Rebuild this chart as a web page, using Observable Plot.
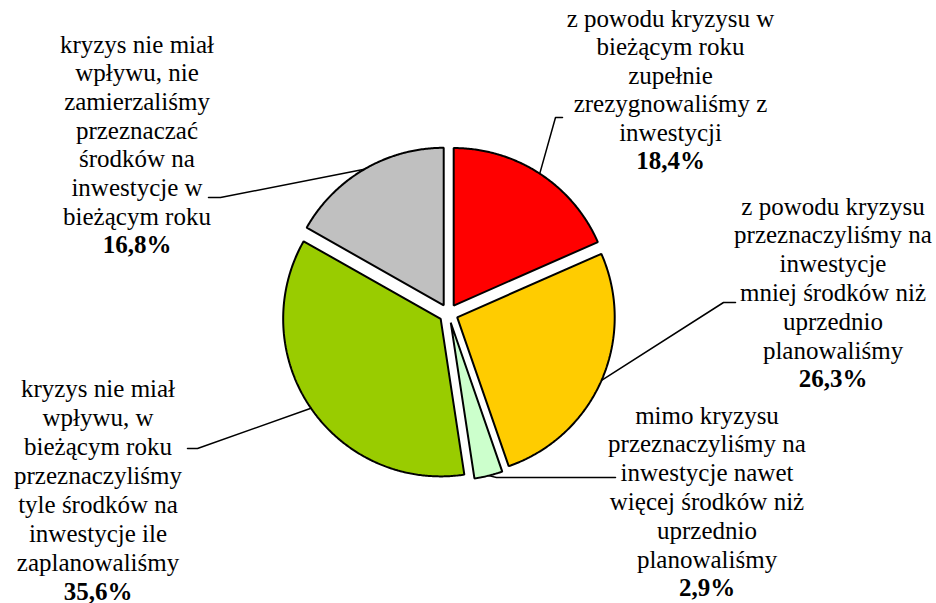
<!DOCTYPE html>
<html>
<head>
<meta charset="utf-8">
<script src="https://cdn.jsdelivr.net/npm/d3@7"></script>
<script src="https://cdn.jsdelivr.net/npm/@observablehq/plot@0.6"></script>
<style>
  html, body { margin: 0; padding: 0; background: #fff; }
  svg { display: block; }
</style>
</head>
<body>
<script>
// ---- data ----
const categories = [
  "z powodu kryzysu w bieżącym roku zupełnie zrezygnowaliśmy z inwestycji",
  "z powodu kryzysu przeznaczyliśmy na inwestycje mniej środków niż uprzednio planowaliśmy",
  "mimo kryzysu przeznaczyliśmy na inwestycje nawet więcej środków niż uprzednio planowaliśmy",
  "kryzys nie miał wpływu, w bieżącym roku przeznaczyliśmy tyle środków na inwestycje ile zaplanowaliśmy",
  "kryzys nie miał wpływu, nie zamierzaliśmy przeznaczać środków na inwestycje w bieżącym roku"
];
const shares = [18.4, 26.3, 2.9, 35.6, 16.8];
const pctLabels = ["18,4%", "26,3%", "2,9%", "35,6%", "16,8%"];
const labelLines = [
  ["z powodu kryzysu w", "bieżącym roku", "zupełnie", "zrezygnowaliśmy z", "inwestycji"],
  ["z powodu kryzysu", "przeznaczyliśmy na", "inwestycje", "mniej środków niż", "uprzednio", "planowaliśmy"],
  ["mimo kryzysu", "przeznaczyliśmy na", "inwestycje nawet", "więcej środków niż", "uprzednio", "planowaliśmy"],
  ["kryzys nie miał", "wpływu, w", "bieżącym roku", "przeznaczyliśmy", "tyle środków na", "inwestycje ile", "zaplanowaliśmy"],
  ["kryzys nie miał", "wpływu, nie", "zamierzaliśmy", "przeznaczać", "środków na", "inwestycje w", "bieżącym roku"]
];

// ---- styles / layout (kept separate from data) ----
const palette = ["#FF0000", "#FFCC00", "#CCFFCC", "#99CC00", "#C0C0C0"];
const W = 936, H = 603;
const pie = {cx: 448, cy: 313, r: 157.5, explode: 9.5};
const labelLayout = [
  {cx: 670,   b1: 26,  step: 28.5, elbow: [555, 117], end: [562, 117]},
  {cx: 832.5, b1: 214, step: 28.8, elbow: [723, 302], end: [735, 302]},
  {cx: 706.5, b1: 423, step: 28.8, elbow: [496, 477], end: [615, 477]},
  {cx: 97.5,  b1: 396, step: 29,   elbow: [197, 448], end: [187, 448]},
  {cx: 136.5, b1: 52,  step: 28.7, elbow: [220, 197], end: [208, 197]}
];
const FONT = "'Liberation Serif', 'Times New Roman', serif";
const FS = 25;

// ---- geometry from data ----
const arcs = d3.pie().sort(null).value(d => d)(shares);
function sliceOffset(a) {
  const mid = (a.startAngle + a.endAngle) / 2;
  return [pie.explode * Math.sin(mid), -pie.explode * Math.cos(mid)];
}
function polar(a, ang, r) {
  const [ox, oy] = sliceOffset(a);
  return {x: pie.cx + ox + r * Math.sin(ang), y: pie.cy + oy - r * Math.cos(ang)};
}

const marks = [];
arcs.forEach((a, i) => {
  const pts = [polar(a, 0, 0)];
  const n = Math.max(4, Math.ceil((a.endAngle - a.startAngle) / (Math.PI / 360)));
  for (let k = 0; k <= n; ++k) {
    const ang = a.startAngle + (a.endAngle - a.startAngle) * k / n;
    pts.push(polar(a, ang, pie.r));
  }
  marks.push(Plot.line(pts, {
    x: "x", y: "y", curve: "linear-closed",
    fill: palette[i], stroke: "black", strokeWidth: 2, strokeLinejoin: "miter"
  }));
});

// leader lines
arcs.forEach((a, i) => {
  const L = labelLayout[i];
  const mid = (a.startAngle + a.endAngle) / 2;
  const start = polar(a, mid, pie.r);
  const pts = [start, {x: L.elbow[0], y: L.elbow[1]}, {x: L.end[0], y: L.end[1]}];
  marks.push(Plot.line(pts, {x: "x", y: "y", stroke: "black", strokeWidth: 1.5}));
});

// labels
const textRows = [];
labelLines.forEach((lines, i) => {
  const L = labelLayout[i];
  lines.forEach((t, k) => textRows.push({text: t, x: L.cx, y: L.b1 + k * L.step, bold: false}));
  textRows.push({text: pctLabels[i], x: L.cx, y: L.b1 + lines.length * L.step, bold: true});
});
marks.push(Plot.text(textRows.filter(d => !d.bold), {
  x: "x", y: "y", text: "text", lineAnchor: "bottom", textAnchor: "middle",
  fontSize: FS, fontFamily: FONT, fill: "black"
}));
marks.push(Plot.text(textRows.filter(d => d.bold), {
  x: "x", y: "y", text: "text", lineAnchor: "bottom", textAnchor: "middle",
  fontSize: FS, fontFamily: FONT, fontWeight: "bold", fill: "black"
}));

const chart = Plot.plot({
  width: W, height: H,
  margin: 0,
  x: {domain: [0, W], range: [0, W], axis: null},
  y: {domain: [0, H], range: [0, H], axis: null},
  style: {background: "white", overflow: "visible"},
  marks
});
chart.setAttribute("aria-label", "Wpływ kryzysu na inwestycje: " + categories.map((c, i) => c + " " + pctLabels[i]).join("; "));
document.body.appendChild(chart);
</script>
</body>
</html>
